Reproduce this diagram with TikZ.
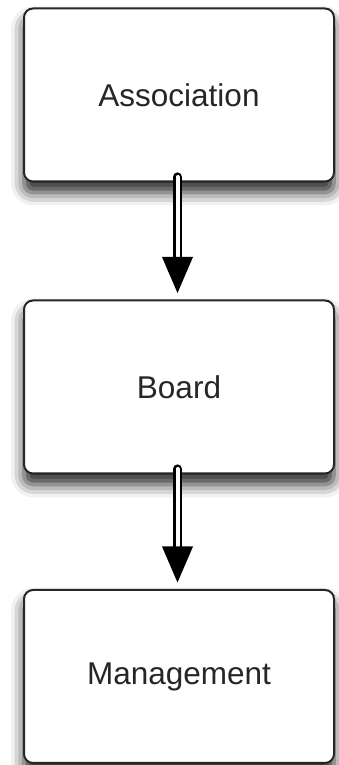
\documentclass[tikz,border=0pt]{standalone}
\usepackage{fontspec}
\setmainfont{Liberation Sans}
\usetikzlibrary{shadows.blur,calc}
\begin{document}
\begin{tikzpicture}[x=1pt,y=1pt,
  box/.style={draw=black!85, line width=2pt, rounded corners=9pt, fill=white,
    minimum width=310pt, minimum height=173pt, inner sep=0pt, text=black!85,
    font=\fontsize{31.5}{38}\selectfont,
    blur shadow={shadow xshift=0pt, shadow yshift=-11pt, shadow blur radius=13pt, shadow opacity=85}},
  shaft/.style={draw=black, line width=2.6pt, double=white, double distance=4pt, line cap=round},
  headtip/.style={fill=black}]
\useasboundingbox (0,0) rectangle (339,765);
\node[box] (a) at (179,670) {Association};
\node[box] (b) at (179,378) {Board};
\node[box] (c) at (179,88.5) {Management};
% arrow a -> b
\draw[shaft] ($(a.south)+(-1.5,5.5)$) -- ($(b.north)+(-1.5,40)$);
\fill[headtip] ($(b.north)+(14,42.5)$) -- ($(b.north)+(-17,42.5)$) -- ($(b.north)+(-1.5,6.5)$) -- cycle;
% arrow b -> c
\draw[shaft] ($(b.south)+(-1.5,5.5)$) -- ($(c.north)+(-1.5,40)$);
\fill[headtip] ($(c.north)+(14,42.5)$) -- ($(c.north)+(-17,42.5)$) -- ($(c.north)+(-1.5,6.5)$) -- cycle;
\end{tikzpicture}
\end{document}
